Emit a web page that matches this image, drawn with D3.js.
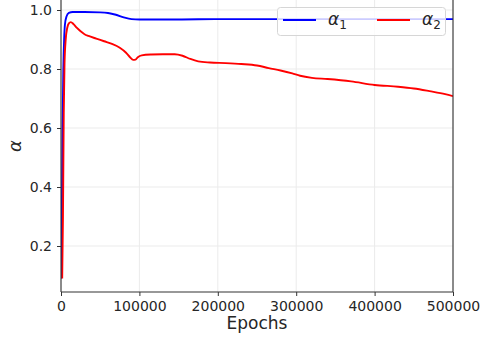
<!DOCTYPE html>
<html>
<head>
<meta charset="utf-8">
<script src="https://cdn.jsdelivr.net/npm/d3@7"></script>
<style>
  html, body { margin: 0; padding: 0; background: #fff; }
  svg { display: block; font-family: "DejaVu Sans", sans-serif; }
</style>
</head>
<body>
<svg id="chart" width="483" height="339"></svg>
<script>
// Training curves of the two mixing coefficients
const alpha1Epochs = [0, 1000, 2000, 3000, 4000, 5000, 7000, 10000, 15000, 30000, 50000, 60000, 70000, 80000, 90000, 100000, 150000, 200000, 300000, 400000, 500000];
const alpha1Values = [0.09, 0.30, 0.60, 0.80, 0.90, 0.95, 0.978, 0.99, 0.993, 0.993, 0.992, 0.990, 0.984, 0.975, 0.969, 0.968, 0.968, 0.969, 0.969, 0.969, 0.969];

const alpha2Epochs = [1500, 2500, 3500, 4500, 6000, 8000, 10000, 12500, 16000, 20000, 25000, 30000, 35000, 45000, 55000, 65000, 75000, 83000, 88000, 92000, 95000, 98000, 103000, 115000, 130000, 145000, 155000, 165000, 175000, 190000, 210000, 230000, 250000, 265000, 280000, 295000, 305000, 320000, 340000, 370000, 400000, 430000, 450000, 470000, 490000, 500000];
const alpha2Values = [0.09, 0.30, 0.65, 0.82, 0.90, 0.94, 0.955, 0.959, 0.952, 0.940, 0.928, 0.918, 0.912, 0.903, 0.894, 0.885, 0.872, 0.855, 0.840, 0.831, 0.832, 0.840, 0.846, 0.849, 0.850, 0.850, 0.845, 0.834, 0.826, 0.822, 0.820, 0.817, 0.812, 0.803, 0.795, 0.785, 0.777, 0.770, 0.766, 0.758, 0.746, 0.740, 0.734, 0.725, 0.715, 0.708];

const xTicks = [0, 100000, 200000, 300000, 400000, 500000];
const yTicks = [0.2, 0.4, 0.6, 0.8, 1.0];

const series = [
  { name: "1", color: "#0000ff", xs: alpha1Epochs, ys: alpha1Values },
  { name: "2", color: "#ff0000", xs: alpha2Epochs, ys: alpha2Values }
];

const svg = d3.select("#chart");
const plotLeft = 61, plotRight = 453, plotTop = 0, plotBottom = 292;

const x = d3.scaleLinear().domain([0, 500000]).range([plotLeft, plotRight]);
const y = d3.scaleLinear().domain([0.0441, 1.0339]).range([plotBottom, plotTop]);

// grid
svg.append("g").selectAll("line").data(xTicks).join("line")
  .attr("x1", d => x(d)).attr("x2", d => x(d))
  .attr("y1", plotTop).attr("y2", plotBottom)
  .attr("stroke", "#ebebeb").attr("stroke-width", 1);
svg.append("g").selectAll("line").data(yTicks).join("line")
  .attr("x1", plotLeft).attr("x2", plotRight)
  .attr("y1", d => y(d)).attr("y2", d => y(d))
  .attr("stroke", "#ebebeb").attr("stroke-width", 1);

// clipped curves
svg.append("clipPath").attr("id", "plotclip").append("rect")
  .attr("x", plotLeft).attr("y", plotTop)
  .attr("width", plotRight - plotLeft).attr("height", plotBottom - plotTop);

const line = d3.line().curve(d3.curveMonotoneX);
const plot = svg.append("g").attr("clip-path", "url(#plotclip)");
series.forEach(s => {
  const pts = s.xs.map((e, i) => [x(e), y(s.ys[i])]);
  plot.append("path")
    .attr("d", line(pts))
    .attr("fill", "none")
    .attr("stroke", s.color)
    .attr("stroke-width", 1.9)
    .attr("stroke-linejoin", "round");
});

// axes
const xAxis = d3.axisBottom(x).tickValues(xTicks).tickFormat(d3.format("d")).tickSize(4).tickPadding(5);
const yAxis = d3.axisLeft(y).tickValues(yTicks).tickFormat(d3.format(".1f")).tickSize(4).tickPadding(5);

const gx = svg.append("g").attr("transform", `translate(0,${plotBottom})`).call(xAxis);
const gy = svg.append("g").attr("transform", `translate(${plotLeft},0)`).call(yAxis);
[gx, gy].forEach(g => {
  g.select(".domain").remove();
  g.selectAll(".tick line").attr("stroke", "#333");
  g.selectAll(".tick text").attr("fill", "#262626")
    .style("font-size", "14px").style("font-family", "DejaVu Sans");
});

// spines
svg.append("line").attr("x1", plotLeft).attr("x2", plotLeft).attr("y1", plotTop).attr("y2", plotBottom)
  .attr("stroke", "#333").attr("stroke-width", 1.1);
svg.append("line").attr("x1", plotRight).attr("x2", plotRight).attr("y1", plotTop).attr("y2", plotBottom)
  .attr("stroke", "#333").attr("stroke-width", 1.1);
svg.append("line").attr("x1", plotLeft).attr("x2", plotRight).attr("y1", plotBottom).attr("y2", plotBottom)
  .attr("stroke", "#333").attr("stroke-width", 1.1);

// axis titles
svg.append("text").attr("x", (plotLeft + plotRight) / 2).attr("y", 329)
  .attr("text-anchor", "middle").attr("fill", "#262626")
  .style("font-size", "17px").text("Epochs");
svg.append("text")
  .attr("transform", `translate(21,146) rotate(-90)`)
  .attr("text-anchor", "middle").attr("fill", "#262626")
  .style("font-size", "18px").style("font-style", "italic").text("α");

// legend
const lg = svg.append("g");
lg.append("rect").attr("x", 277.5).attr("y", 7.5).attr("width", 168).attr("height", 28)
  .attr("rx", 3).attr("fill", "#fff").attr("fill-opacity", 0.8)
  .attr("stroke", "#d6d6d6").attr("stroke-width", 1);
const lx = [283, 377];
series.forEach((s, i) => {
  lg.append("line").attr("x1", lx[i]).attr("x2", lx[i] + 33)
    .attr("y1", 20).attr("y2", 20)
    .attr("stroke", s.color).attr("stroke-width", 1.9);
  const t = lg.append("text").attr("x", lx[i] + 45).attr("y", 25)
    .attr("fill", "#262626").style("font-size", "17px");
  t.append("tspan").style("font-style", "italic").text("α");
  t.append("tspan").attr("dy", 4).style("font-size", "12px").text(s.name);
});
</script>
</body>
</html>
